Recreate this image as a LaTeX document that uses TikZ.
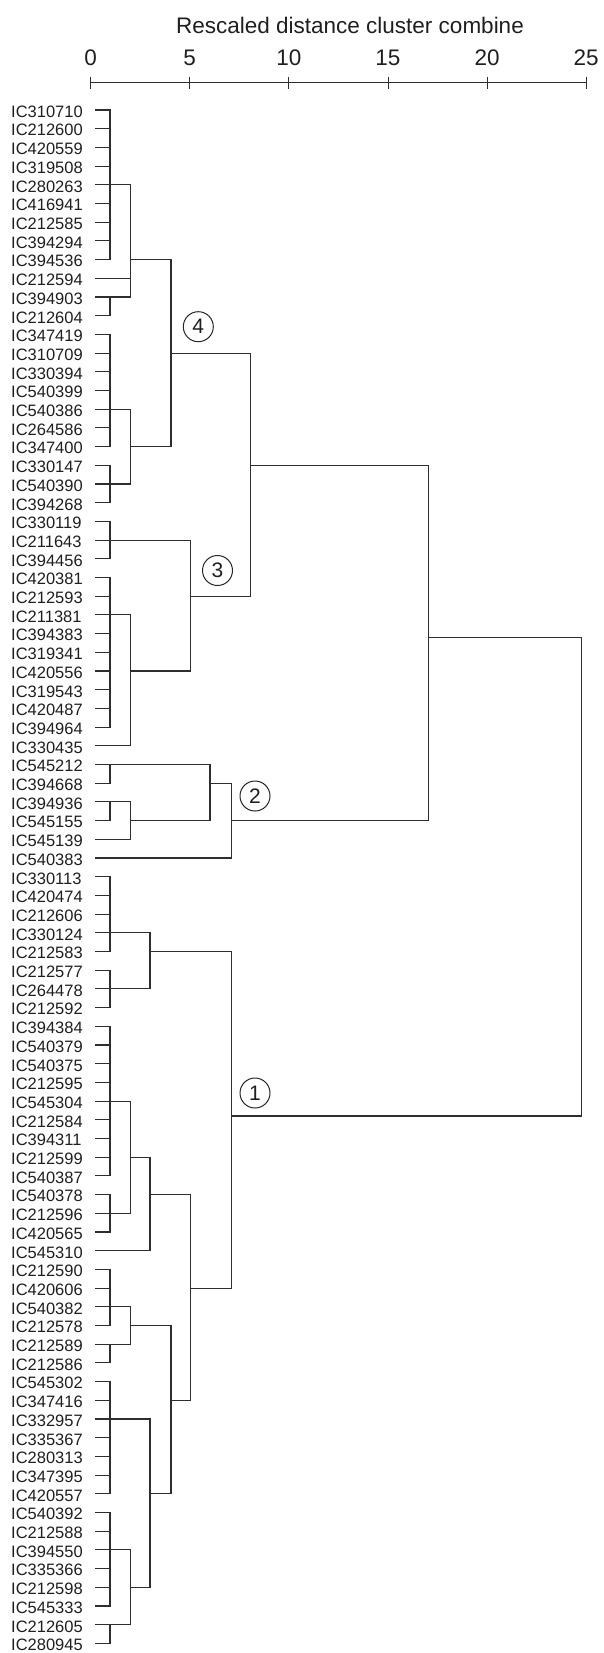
\documentclass[tikz,border=0pt]{standalone}
\usepackage{fontspec}
\setmainfont{Liberation Sans}
\begin{document}
\begin{tikzpicture}[x=1pt,y=-1pt,
  ln/.style={draw=black!82,line width=1.1pt,line cap=rect},
  lbl/.style={anchor=base west,inner sep=0pt,text=black!88,font=\fontsize{16.5}{18}\selectfont},
  num/.style={inner sep=0pt,text=black!88,font=\fontsize{22.5}{24}\selectfont},
  circ/.style={circle,draw=black!85,line width=1pt,minimum size=30pt,inner sep=0pt,text=black!88,font=\fontsize{21}{22}\selectfont}]
\useasboundingbox (0,0) rectangle (603,1653);
% title and axis
\node[num] (title) at (350,25) {Rescaled distance cluster combine};
\coordinate (a0) at (90.6,82.2);
\coordinate (a25) at (586.2,82.2);
\draw[ln] (a0) -- (a25);
\foreach \k/\t in {0/0,1/5,2/10,3/15,4/20,5/25}{
  \node[num] (n\k) at ({90.6+\k*99.12},57.4) {\t};
  \draw[ln,line width=0.9pt] ({90.6+\k*99.12},77) -- ({90.6+\k*99.12},88.5);
}
% leaf rows and labels
\foreach \nm [count=\i] in {IC310710,IC212600,IC420559,IC319508,IC280263,IC416941,IC212585,IC394294,IC394536,IC212594,IC394903,IC212604,IC347419,IC310709,IC330394,IC540399,IC540386,IC264586,IC347400,IC330147,IC540390,IC394268,IC330119,IC211643,IC394456,IC420381,IC212593,IC211381,IC394383,IC319341,IC420556,IC319543,IC420487,IC394964,IC330435,IC545212,IC394668,IC394936,IC545155,IC545139,IC540383,IC330113,IC420474,IC212606,IC330124,IC212583,IC212577,IC264478,IC212592,IC394384,IC540379,IC540375,IC212595,IC545304,IC212584,IC394311,IC212599,IC540387,IC540378,IC212596,IC420565,IC545310,IC212590,IC420606,IC540382,IC212578,IC212589,IC212586,IC545302,IC347416,IC332957,IC335367,IC280313,IC347395,IC420557,IC540392,IC212588,IC394550,IC335366,IC212598,IC545333,IC212605,IC280945}{
  \coordinate (r\i) at (96,{110+(\i-1)*18.7});
  \node[lbl] (l\i) at (11,{117.3+(\i-1)*18.7}) {\nm};
}
\coordinate (rABCD) at (96,637.5);
\coordinate (rEFGH) at (96,1116);
% merge distances
\coordinate (v1) at (110,0);
\coordinate (v2) at (130.7,0);
\coordinate (v3) at (150,0);
\coordinate (v4) at (171,0);
\coordinate (v5) at (190.5,0);
\coordinate (v6) at (210,0);
\coordinate (v7) at (231.7,0);
\coordinate (v8) at (250.7,0);
\coordinate (v17) at (428.3,0);
\coordinate (vF) at (581.7,0);
% leaf stubs
\foreach \i in {1,...,9,11,12,13,...,34,36,37,38,39,42,43,...,61,63,64,...,83}{
  \draw[ln] (r\i) -- (v1 |- r\i);
}
\draw[ln] (r10) -- (v2 |- r10);
\draw[ln] (r35) -- (v2 |- r35);
\draw[ln] (r40) -- (v2 |- r40);
\draw[ln] (r41) -- (v7 |- r41);
\draw[ln] (r62) -- (v3 |- r62);
% merges: x, top, bottom, representative row, parent x
\newcommand\mrg[5]{%
  \draw[ln] (#1 |- r#2) -- (#1 |- r#3);
  \draw[ln] (#1 |- r#4) -- (#5 |- r#4);}
\mrg{v1}{1}{9}{5}{v2}
\mrg{v1}{11}{12}{11}{v2}
\mrg{v2}{5}{11}{9}{v4}
\mrg{v1}{13}{19}{17}{v2}
\mrg{v1}{20}{22}{21}{v2}
\mrg{v2}{17}{21}{19}{v4}
\mrg{v4}{9}{19}{14}{v8}
\mrg{v1}{23}{25}{24}{v5}
\mrg{v1}{26}{34}{28}{v2}
\mrg{v2}{28}{35}{31}{v5}
\mrg{v5}{24}{31}{27}{v8}
\mrg{v8}{14}{27}{20}{v17}
\mrg{v1}{36}{37}{36}{v6}
\mrg{v1}{38}{39}{38}{v2}
\mrg{v2}{38}{40}{39}{v6}
\mrg{v6}{36}{39}{37}{v7}
\mrg{v7}{37}{41}{39}{v17}
\mrg{v17}{20}{39}{ABCD}{vF}
\mrg{v1}{42}{46}{45}{v3}
\mrg{v1}{47}{49}{48}{v3}
\mrg{v3}{45}{48}{46}{v7}
\mrg{v1}{50}{58}{54}{v2}
\mrg{v1}{59}{61}{60}{v2}
\mrg{v2}{54}{60}{57}{v3}
\mrg{v3}{57}{62}{59}{v5}
\mrg{v1}{63}{66}{65}{v2}
\mrg{v1}{67}{68}{67}{v2}
\mrg{v2}{65}{67}{66}{v4}
\mrg{v1}{69}{75}{71}{v3}
\mrg{v1}{76}{81}{78}{v2}
\mrg{v1}{82}{83}{82}{v2}
\mrg{v2}{78}{82}{80}{v3}
\mrg{v3}{71}{80}{75}{v4}
\mrg{v4}{66}{75}{70}{v5}
\mrg{v5}{59}{70}{64}{v7}
\mrg{v7}{46}{64}{EFGH}{vF}
\draw[ln] (vF |- rABCD) -- (vF |- rEFGH);
% cluster numbers
\node[circ] (c4) at (198.3,326.7) {4};
\node[circ] (c3) at (217.5,570.5) {3};
\node[circ] (c2) at (255,796) {2};
\node[circ] (c1) at (255,1093) {1};
\end{tikzpicture}
\end{document}
